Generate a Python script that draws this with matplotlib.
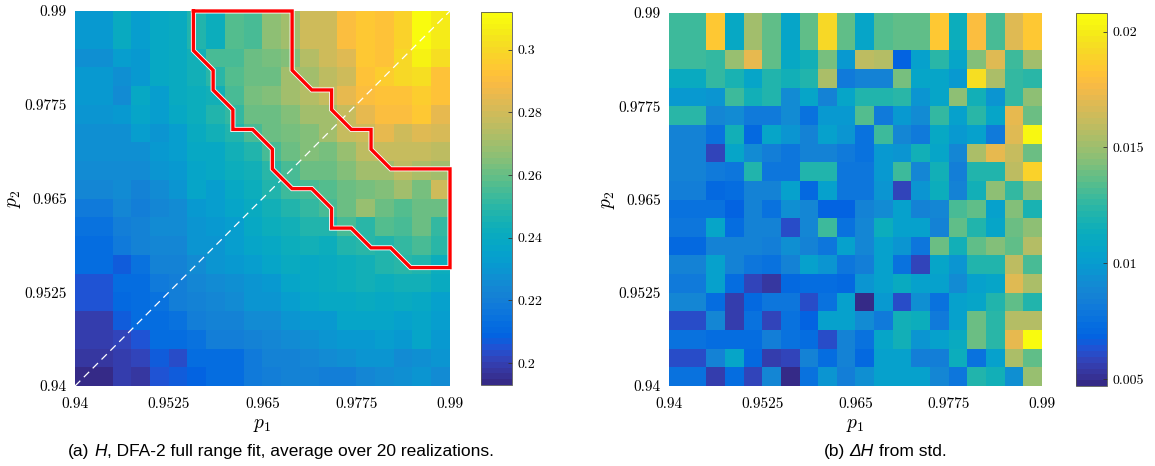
import numpy as np
import matplotlib
matplotlib.use("Agg")
import matplotlib.pyplot as plt
import matplotlib.patheffects as pe
from matplotlib import font_manager
from matplotlib.colors import LinearSegmentedColormap

# axis ticks shared by both panels
P_TICKS = [0.94, 0.9525, 0.965, 0.9775, 0.99]
P_TICK_LABELS = ["0.94", "0.9525", "0.965", "0.9775", "0.99"]

# cell edges: first column and top row span two grid steps
P1_EDGES = np.r_[0.94, np.arange(0.945, 0.99001, 0.0025)]
P2_EDGES = np.r_[np.arange(0.94, 0.98501, 0.0025), 0.99]

# mean Hurst exponent, rows run from p2 = 0.99 (top) down to 0.94
H_MEAN = [
    [0.232, 0.240, 0.233, 0.238, 0.240, 0.247, 0.243, 0.258, 0.255, 0.266, 0.270, 0.280, 0.280, 0.290, 0.295, 0.293, 0.298, 0.312, 0.305],
    [0.228, 0.233, 0.232, 0.238, 0.240, 0.245, 0.255, 0.255, 0.260, 0.262, 0.265, 0.273, 0.280, 0.283, 0.295, 0.292, 0.300, 0.307, 0.302],
    [0.232, 0.228, 0.232, 0.238, 0.240, 0.245, 0.250, 0.258, 0.260, 0.260, 0.270, 0.270, 0.275, 0.280, 0.292, 0.297, 0.300, 0.302, 0.293],
    [0.232, 0.225, 0.238, 0.233, 0.240, 0.243, 0.245, 0.255, 0.262, 0.265, 0.270, 0.273, 0.278, 0.285, 0.290, 0.293, 0.292, 0.296, 0.292],
    [0.230, 0.232, 0.237, 0.233, 0.238, 0.243, 0.248, 0.252, 0.260, 0.260, 0.265, 0.270, 0.270, 0.278, 0.285, 0.290, 0.290, 0.295, 0.285],
    [0.228, 0.228, 0.233, 0.230, 0.233, 0.240, 0.245, 0.248, 0.255, 0.260, 0.262, 0.265, 0.270, 0.278, 0.280, 0.285, 0.280, 0.284, 0.282],
    [0.228, 0.228, 0.228, 0.232, 0.233, 0.238, 0.238, 0.245, 0.248, 0.255, 0.260, 0.265, 0.262, 0.268, 0.276, 0.278, 0.278, 0.278, 0.276],
    [0.226, 0.226, 0.225, 0.230, 0.232, 0.236, 0.238, 0.242, 0.245, 0.250, 0.255, 0.260, 0.260, 0.265, 0.270, 0.270, 0.275, 0.272, 0.270],
    [0.223, 0.225, 0.222, 0.226, 0.230, 0.237, 0.233, 0.238, 0.243, 0.248, 0.253, 0.255, 0.258, 0.260, 0.262, 0.265, 0.270, 0.262, 0.280],
    [0.218, 0.223, 0.220, 0.223, 0.226, 0.232, 0.233, 0.236, 0.240, 0.245, 0.248, 0.252, 0.255, 0.260, 0.268, 0.260, 0.258, 0.260, 0.260],
    [0.215, 0.220, 0.222, 0.225, 0.226, 0.230, 0.232, 0.233, 0.238, 0.243, 0.245, 0.248, 0.248, 0.255, 0.250, 0.258, 0.255, 0.260, 0.252],
    [0.213, 0.218, 0.222, 0.224, 0.224, 0.230, 0.230, 0.233, 0.237, 0.238, 0.242, 0.245, 0.242, 0.247, 0.250, 0.248, 0.252, 0.255, 0.250],
    [0.212, 0.207, 0.215, 0.222, 0.222, 0.226, 0.230, 0.232, 0.233, 0.236, 0.240, 0.238, 0.240, 0.242, 0.245, 0.247, 0.250, 0.248, 0.243],
    [0.205, 0.213, 0.212, 0.218, 0.220, 0.223, 0.225, 0.228, 0.230, 0.232, 0.236, 0.238, 0.240, 0.242, 0.245, 0.242, 0.245, 0.245, 0.240],
    [0.205, 0.210, 0.213, 0.215, 0.220, 0.222, 0.224, 0.226, 0.230, 0.230, 0.233, 0.236, 0.238, 0.238, 0.240, 0.238, 0.240, 0.238, 0.235],
    [0.200, 0.207, 0.212, 0.213, 0.215, 0.220, 0.222, 0.222, 0.225, 0.226, 0.230, 0.232, 0.232, 0.236, 0.237, 0.236, 0.234, 0.237, 0.233],
    [0.200, 0.202, 0.205, 0.213, 0.213, 0.215, 0.220, 0.220, 0.222, 0.224, 0.225, 0.228, 0.230, 0.232, 0.232, 0.233, 0.232, 0.236, 0.232],
    [0.197, 0.200, 0.202, 0.207, 0.203, 0.213, 0.213, 0.212, 0.218, 0.222, 0.222, 0.224, 0.225, 0.228, 0.230, 0.230, 0.226, 0.227, 0.230],
    [0.193, 0.200, 0.198, 0.205, 0.207, 0.208, 0.212, 0.213, 0.218, 0.220, 0.222, 0.222, 0.220, 0.220, 0.224, 0.225, 0.228, 0.230, 0.226],
]

# spread (std) of H over realizations, same row order
H_STD = [
    [0.0128, 0.0183, 0.0108, 0.0152, 0.0137, 0.0106, 0.0137, 0.0192, 0.0137, 0.0107, 0.0133, 0.0137, 0.0137, 0.0183, 0.0114, 0.0180, 0.0132, 0.0170, 0.0185],
    [0.0130, 0.0125, 0.0150, 0.0172, 0.0137, 0.0108, 0.0117, 0.0142, 0.0098, 0.0160, 0.0156, 0.0068, 0.0104, 0.0124, 0.0106, 0.0143, 0.0170, 0.0130, 0.0152],
    [0.0112, 0.0125, 0.0118, 0.0105, 0.0122, 0.0117, 0.0122, 0.0154, 0.0082, 0.0085, 0.0085, 0.0142, 0.0106, 0.0106, 0.0098, 0.0194, 0.0154, 0.0125, 0.0124],
    [0.0098, 0.0095, 0.0130, 0.0117, 0.0120, 0.0090, 0.0105, 0.0085, 0.0106, 0.0122, 0.0122, 0.0124, 0.0097, 0.0107, 0.0146, 0.0115, 0.0095, 0.0126, 0.0147],
    [0.0124, 0.0088, 0.0090, 0.0082, 0.0082, 0.0092, 0.0075, 0.0098, 0.0098, 0.0133, 0.0082, 0.0098, 0.0090, 0.0126, 0.0104, 0.0124, 0.0105, 0.0172, 0.0138],
    [0.0085, 0.0075, 0.0117, 0.0070, 0.0106, 0.0097, 0.0087, 0.0104, 0.0095, 0.0077, 0.0128, 0.0088, 0.0082, 0.0108, 0.0099, 0.0104, 0.0080, 0.0170, 0.0205],
    [0.0085, 0.0058, 0.0105, 0.0090, 0.0083, 0.0078, 0.0086, 0.0085, 0.0082, 0.0077, 0.0098, 0.0096, 0.0115, 0.0105, 0.0088, 0.0155, 0.0172, 0.0162, 0.0138],
    [0.0085, 0.0082, 0.0078, 0.0122, 0.0078, 0.0078, 0.0120, 0.0122, 0.0078, 0.0078, 0.0099, 0.0128, 0.0088, 0.0117, 0.0083, 0.0120, 0.0122, 0.0160, 0.0188],
    [0.0083, 0.0072, 0.0073, 0.0087, 0.0087, 0.0103, 0.0070, 0.0103, 0.0078, 0.0078, 0.0095, 0.0058, 0.0097, 0.0113, 0.0085, 0.0117, 0.0146, 0.0126, 0.0146],
    [0.0077, 0.0075, 0.0068, 0.0087, 0.0075, 0.0093, 0.0088, 0.0068, 0.0068, 0.0087, 0.0090, 0.0104, 0.0085, 0.0088, 0.0132, 0.0137, 0.0104, 0.0145, 0.0118],
    [0.0078, 0.0105, 0.0073, 0.0087, 0.0085, 0.0060, 0.0088, 0.0128, 0.0075, 0.0088, 0.0113, 0.0104, 0.0104, 0.0085, 0.0137, 0.0122, 0.0106, 0.0138, 0.0146],
    [0.0072, 0.0085, 0.0085, 0.0085, 0.0083, 0.0094, 0.0087, 0.0078, 0.0103, 0.0088, 0.0104, 0.0095, 0.0078, 0.0138, 0.0115, 0.0136, 0.0145, 0.0136, 0.0157],
    [0.0085, 0.0103, 0.0087, 0.0078, 0.0075, 0.0085, 0.0104, 0.0097, 0.0078, 0.0083, 0.0103, 0.0077, 0.0059, 0.0105, 0.0095, 0.0122, 0.0120, 0.0160, 0.0132],
    [0.0082, 0.0104, 0.0073, 0.0058, 0.0053, 0.0072, 0.0073, 0.0073, 0.0070, 0.0095, 0.0104, 0.0112, 0.0104, 0.0104, 0.0090, 0.0104, 0.0107, 0.0168, 0.0155],
    [0.0088, 0.0073, 0.0055, 0.0072, 0.0078, 0.0078, 0.0060, 0.0075, 0.0103, 0.0047, 0.0098, 0.0062, 0.0093, 0.0075, 0.0104, 0.0105, 0.0120, 0.0136, 0.0122],
    [0.0060, 0.0088, 0.0056, 0.0075, 0.0058, 0.0077, 0.0068, 0.0104, 0.0104, 0.0090, 0.0080, 0.0115, 0.0114, 0.0080, 0.0104, 0.0138, 0.0124, 0.0156, 0.0156],
    [0.0075, 0.0073, 0.0073, 0.0073, 0.0083, 0.0077, 0.0073, 0.0062, 0.0086, 0.0075, 0.0106, 0.0115, 0.0097, 0.0104, 0.0112, 0.0138, 0.0124, 0.0172, 0.0208],
    [0.0060, 0.0087, 0.0106, 0.0070, 0.0055, 0.0058, 0.0087, 0.0073, 0.0085, 0.0072, 0.0104, 0.0103, 0.0083, 0.0084, 0.0113, 0.0075, 0.0104, 0.0154, 0.0136],
    [0.0075, 0.0056, 0.0073, 0.0058, 0.0088, 0.0048, 0.0075, 0.0097, 0.0083, 0.0094, 0.0103, 0.0103, 0.0104, 0.0088, 0.0078, 0.0122, 0.0115, 0.0094, 0.0148],
]

# outlined region, as indices on linspace(0.94, 0.99, 20)
REGION_I1 = [6, 6, 7, 7, 8, 8, 9, 10, 10, 11, 12, 13, 13, 14, 15, 16, 17, 19,
             19, 16, 15, 15, 14, 13, 13, 12, 11, 11, 6]
REGION_I2 = [19, 17, 16, 15, 14, 13, 13, 12, 11, 10, 10, 9, 8, 8, 7, 7, 6, 6,
             11, 11, 12, 13, 13, 14, 15, 15, 16, 19, 19]

H_CBAR_TICKS = [0.2, 0.22, 0.24, 0.26, 0.28, 0.3]
DH_CBAR_TICKS = [0.005, 0.01, 0.015, 0.02]

# MATLAB parula, sampled from its 64-entry table
PARULA = LinearSegmentedColormap.from_list("parula", [
    (0.2081, 0.1663, 0.5292), (0.2123, 0.2138, 0.6270), (0.1959, 0.2645, 0.7279),
    (0.1253, 0.3242, 0.8303), (0.0117, 0.3875, 0.8820), (0.0165, 0.4266, 0.8786),
    (0.0498, 0.4586, 0.8641), (0.0723, 0.4887, 0.8467), (0.0793, 0.5200, 0.8312),
    (0.0641, 0.5570, 0.8240), (0.0343, 0.5966, 0.8199), (0.0239, 0.6287, 0.8038),
    (0.0228, 0.6535, 0.7768), (0.0384, 0.6743, 0.7436), (0.0843, 0.6928, 0.7062),
    (0.1453, 0.7098, 0.6646), (0.2178, 0.7250, 0.6193), (0.3022, 0.7376, 0.5712),
    (0.3953, 0.7459, 0.5244), (0.4871, 0.7491, 0.4840), (0.5709, 0.7485, 0.4494),
    (0.6473, 0.7456, 0.4188), (0.7184, 0.7411, 0.3905), (0.7858, 0.7356, 0.3633),
    (0.8507, 0.7299, 0.3360), (0.9139, 0.7258, 0.3063), (0.9739, 0.7314, 0.2666),
    (0.9990, 0.7653, 0.2164), (0.9880, 0.8066, 0.1794), (0.9697, 0.8481, 0.1475),
    (0.9589, 0.8949, 0.1132), (0.9661, 0.9514, 0.0755), (0.9763, 0.9831, 0.0538),
], N=64)


def pick_font(names):
    for name in names:
        try:
            font_manager.findfont(name, fallback_to_default=False)
            return name
        except ValueError:
            continue
    return "DejaVu Sans"


TICK_FONT = "cmr10"
CAPTION_FONT = pick_font(["Liberation Sans Narrow", "Liberation Sans"])

plt.rcParams["axes.unicode_minus"] = False


def caption(fig, xc, y, parts, size):
    """Centre a run of text pieces (text, italic, gap in spaces after)."""
    renderer = fig.canvas.get_renderer()
    probe = fig.text(0, 0, "x x", fontfamily=CAPTION_FONT, fontsize=size)
    probe2 = fig.text(0, 0, "xx", fontfamily=CAPTION_FONT, fontsize=size)
    space = (probe.get_window_extent(renderer).width
             - probe2.get_window_extent(renderer).width)
    probe.remove()
    probe2.remove()
    texts = []
    total = 0.0
    for s, italic, gap in parts:
        t = fig.text(0, y, s, fontfamily=CAPTION_FONT, fontsize=size,
                     style="italic" if italic else "normal", va="baseline")
        w = t.get_window_extent(renderer).width
        texts.append((t, total))
        total += w + gap * space
    W = fig.bbox.width
    x0 = xc * W - total / 2
    for t, off in texts:
        t.set_x((x0 + off) / W)


def style_axes(ax):
    ax.set_xlim(0.94, 0.99)
    ax.set_ylim(0.94, 0.99)
    ax.set_xticks(P_TICKS)
    ax.set_yticks(P_TICKS)
    ax.set_xticklabels(P_TICK_LABELS, fontfamily=TICK_FONT, fontsize=11)
    ax.set_yticklabels(P_TICK_LABELS, fontfamily=TICK_FONT, fontsize=11)
    ax.tick_params(length=0, pad=6)
    ax.tick_params(axis="x", pad=8)
    for sp in ax.spines.values():
        sp.set_visible(False)
    ax.set_xlabel("$p_1$", fontsize=14, labelpad=3, math_fontfamily="cm")
    ax.set_ylabel("$p_2$", fontsize=14, labelpad=1, math_fontfamily="cm")


def add_colorbar(fig, mesh, rect, ticks):
    cax = fig.add_axes(rect)
    cb = fig.colorbar(mesh, cax=cax)
    cb.set_ticks(ticks, labels=[f"{t:g}" for t in ticks])
    for lbl in cax.get_yticklabels():
        lbl.set_fontfamily(TICK_FONT)
        lbl.set_fontsize(10)
    cax.tick_params(direction="in", length=3, width=0.6, color="#333333", pad=4)
    cb.outline.set_linewidth(0.6)
    cb.outline.set_edgecolor("#555555")
    return cb


fig = plt.figure(figsize=(11.55, 4.66), dpi=100)
W, Hpx = 1155.0, 466.0

# (a) mean H
h = np.flipud(np.array(H_MEAN))
ax1 = fig.add_axes([75 / W, 80 / Hpx, 375 / W, 375 / Hpx])
m1 = ax1.pcolormesh(P1_EDGES, P2_EDGES, h, cmap=PARULA,
                    vmin=h.min(), vmax=h.max(), shading="flat")
ax1.plot([0.94, 0.99], [0.94, 0.99], color="white", lw=0.9,
         linestyle=(0, (6, 4)))
grid = np.linspace(0.94, 0.99, 20)
ax1.plot(grid[REGION_I1], grid[REGION_I2], color="red", lw=2.4,
         solid_joinstyle="miter", clip_on=False,
         path_effects=[pe.Stroke(linewidth=3.6, foreground="white"), pe.Normal()])
style_axes(ax1)
add_colorbar(fig, m1, [481 / W, 81 / Hpx, 31 / W, 373 / Hpx], H_CBAR_TICKS)

# (b) spread of H
dh = np.flipud(np.array(H_STD))
ax2 = fig.add_axes([669 / W, 80 / Hpx, 373 / W, 373 / Hpx])
m2 = ax2.pcolormesh(P1_EDGES, P2_EDGES, dh, cmap=PARULA,
                    vmin=dh.min(), vmax=dh.max(), shading="flat")
style_axes(ax2)
add_colorbar(fig, m2, [1076 / W, 80 / Hpx, 31 / W, 373 / Hpx], DH_CBAR_TICKS)

fig.canvas.draw()
caption(fig, 281 / W, 10 / Hpx,
        [("(a)", False, 1), ("H", True, 0),
         (", DFA-2 full range fit, average over 20 realizations.", False, 0)],
        12.5)
caption(fig, 885 / W, 10 / Hpx,
        [("(b)", False, 1), ("\u0394H", True, 1), ("from std.", False, 0)],
        12.5)

fig.savefig("out.png", dpi=100)
